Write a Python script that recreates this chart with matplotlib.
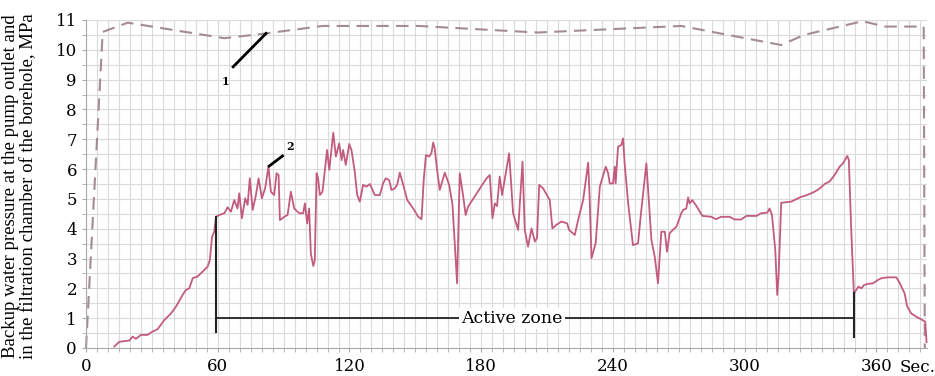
import numpy as np
import matplotlib.pyplot as plt
from matplotlib.ticker import MultipleLocator

# curve 1: pressure at the pump outlet (dashed)
t_pump = [0, 7.6, 19.0, 63, 82, 107.7, 151.6, 190.7, 205.7, 271, 316.6, 327,
          353.7, 363.7, 381.5, 382]
p_pump = [0, 10.6, 10.91, 10.39, 10.55, 10.8, 10.8, 10.64, 10.58, 10.8, 10.16,
          10.5, 10.96, 10.78, 10.78, 0]

# curve 2: pressure in the filtration chamber of the borehole
t_hole = [12.9, 15.2, 19.7, 21.2, 22.8, 25, 28, 30.3, 32.6, 35.7, 38.7, 41, 44,
          45.5, 47, 48.6, 50.8, 53.1, 55.4, 56.4, 57.4, 58.4, 59.2, 60.7, 63,
          64.5, 66, 67.5, 69, 69.8, 71, 72.5, 73.6, 74.6, 75.9, 77.4, 78.6,
          80.1, 81.6, 83.1, 84.2, 85.7, 86.8, 87.7, 88.3, 90.3, 91.8, 93.3,
          94.8, 97.1, 98.9, 99.7, 100.7, 101.6, 102.4, 103.5, 104.2, 105,
          105.7, 106.5, 107.7, 108.8, 109.8, 110.8, 112.6, 113.8, 115.3, 116.4,
          117.1, 118.3, 119.9, 120.9, 122.4, 123.5, 124.7, 126.2, 127.7, 129.3,
          131.5, 133.8, 135.3, 136.5, 138.1, 139.1, 140.6, 141.7, 142.9, 144.7,
          146.3, 149, 151.3, 152.8, 153.8, 154.8, 156.3, 157.3, 158.1, 158.8,
          159.9, 161.1, 163.4, 165.4, 166.9, 168, 169, 170.2, 171.7, 172.9,
          174, 182.4, 183.9, 185.1, 186.2, 187.2, 188.4, 189.5, 192.7, 194.5,
          196.8, 198.8, 199.8, 201.3, 202.9, 204.4, 205.4, 206.4, 208.2, 211.2,
          212.4, 214.2, 216.5, 219.1, 220, 222.6, 224.1, 226.4, 228.7, 229.4,
          230.2, 232.1, 234, 236.7, 237.8, 238.5, 240, 240.8, 241.2, 242.3,
          243.8, 244.6, 245.3, 246.9, 249.1, 251.4, 252.9, 255.2, 257.5, 259,
          260.5, 262, 263.6, 264.6, 265.8, 267.3, 268.9, 271.1, 271.9, 273.4,
          274.2, 274.9, 276.1, 278, 280.7, 284.8, 286.8, 289.3, 293.1, 295.4,
          298.4, 300.7, 305.3, 307.5, 310.3, 311.3, 312.4, 313.9, 314.8, 315.4,
          316.6, 321.2, 323.5, 325.7, 327.3, 330.3, 331.8, 334.1, 336.4, 338.6,
          340.9, 343.2, 344.7, 345.8, 346.7, 347.4, 348.5, 349.7, 350.8, 351.8,
          353.1, 354.3, 356.1, 358.4, 360.6, 362.2, 365.2, 369, 370.5, 372.8,
          374, 375.8, 378.1, 380.4, 382.2, 382.8]
p_hole = [0.05, 0.21, 0.25, 0.38, 0.31, 0.44, 0.44, 0.55, 0.63, 0.94, 1.16,
          1.39, 1.78, 1.95, 2.0, 2.34, 2.4, 2.56, 2.73, 2.95, 3.73, 3.9, 4.4,
          4.46, 4.52, 4.72, 4.57, 4.96, 4.68, 5.19, 4.35, 5.02, 4.8, 5.69, 4.63,
          5.13, 5.69, 5.02, 5.36, 6.08, 5.24, 5.13, 5.86, 5.8, 4.29, 4.4, 4.46,
          5.24, 4.68, 4.52, 4.52, 4.85, 4.18, 4.68, 3.17, 2.75, 2.95, 5.86,
          5.69, 5.13, 5.24, 5.97, 6.64, 5.97, 7.22, 6.42, 6.86, 6.3, 6.64, 6.14,
          6.84, 6.64, 5.91, 5.13, 4.91, 5.47, 5.41, 5.5, 5.13, 5.13, 5.52, 5.69,
          5.63, 5.3, 5.35, 5.47, 5.88, 5.41, 4.96, 4.68, 4.4, 4.32, 5.63, 6.47,
          6.42, 6.53, 6.89, 6.7, 5.97, 5.3, 5.88, 5.47, 4.8, 3.4, 2.17, 5.86,
          5.13, 4.46, 4.74, 5.69, 5.8, 4.35, 4.85, 4.76, 5.75, 5.13, 6.53, 4.52,
          3.96, 6.25, 3.96, 3.4, 4.01, 3.57, 3.68, 5.47, 5.35, 4.96, 4.01, 4.13,
          4.24, 4.18, 3.96, 3.79, 4.29, 4.96, 6.22, 4.96, 3.01, 3.51, 5.41,
          6.08, 5.86, 5.52, 5.52, 6.08, 5.52, 6.75, 6.81, 7.03, 6.19, 4.85,
          3.45, 3.51, 4.63, 6.19, 3.62, 3.06, 2.17, 3.9, 3.9, 3.23, 3.85, 3.96,
          4.07, 4.52, 4.63, 4.68, 5.05, 4.85, 4.96, 4.76, 4.43, 4.4, 4.32, 4.4,
          4.4, 4.31, 4.31, 4.43, 4.43, 4.52, 4.54, 4.68, 4.46, 3.29, 1.78, 2.39,
          4.87, 4.91, 4.99, 5.07, 5.10, 5.19, 5.24, 5.35, 5.50, 5.58, 5.80, 6.08,
          6.19, 6.33, 6.44, 6.31, 3.96, 1.83, 1.95, 2.06, 2.0, 2.11, 2.15, 2.17,
          2.28, 2.34, 2.37, 2.37, 2.19, 1.83, 1.39, 1.16, 1.05, 0.96, 0.88, 0.2]

zone_start, zone_end, zone_level = 59.2, 349.7, 1.0
x_ticks = [0, 60, 120, 180, 240, 300, 360]

plt.rcParams['font.family'] = ['DejaVu Serif']

fig = plt.figure(figsize=(9.35, 3.76), dpi=100)
ax = fig.add_axes([86 / 935, 28 / 376, 841 / 935, 328 / 376])

ax.plot(t_pump, p_pump, color='#a38c95', lw=1.5, dashes=(6, 3.5), clip_on=False)
ax.plot(t_hole, p_hole, color='#c25b7d', lw=1.3, clip_on=False)

# active zone bracket
ax.plot([zone_start, zone_start], [0.55, 4.4], color='#222222', lw=1.5)
ax.plot([zone_end, zone_end], [0.37, 1.85], color='#222222', lw=1.5)
ax.plot([zone_start, zone_end], [zone_level, zone_level], color='#222222', lw=1.3)
ax.text(194, zone_level, 'Active zone', ha='center', va='center', fontsize=12.5,
        bbox=dict(facecolor='white', edgecolor='none', pad=1.5))

# curve labels
ax.plot([82, 67], [10.55, 9.43], color='black', lw=2)
ax.text(63.5, 8.95, '1', fontsize=8, fontweight='bold', ha='center', va='center')
ax.plot([83.4, 89.5], [6.1, 6.44], color='black', lw=2)
ax.text(93, 6.75, '2', fontsize=8, fontweight='bold', ha='center', va='center')

ax.set_xlim(0, 383)
ax.set_ylim(0, 11)
ax.set_xticks(x_ticks)
ax.set_xticklabels([str(v) for v in x_ticks])
ax.set_yticks(range(0, 12))
ax.xaxis.set_minor_locator(MultipleLocator(5))
ax.yaxis.set_minor_locator(MultipleLocator(0.5))
ax.grid(True, which='both', color='#dadada', lw=0.8)
ax.set_axisbelow(True)
ax.tick_params(which='both', length=3, color='#aaaaaa', labelsize=12)
ax.tick_params(axis='x', pad=4)
for side in ['top', 'right']:
    ax.spines[side].set_visible(False)
for side in ['left', 'bottom']:
    ax.spines[side].set_color('#aaaaaa')

ax.text(370.5, -0.38, 'Sec.', fontsize=12, ha='left', va='top')
fig.text(0.021, 0.505, 'Backup water pressure at the pump outlet and\n'
         'in the filtration chamber of the borehole, MPa',
         rotation=90, ha='center', va='center', fontsize=13.5, linespacing=1.05,
         family=['Liberation Serif'])

fig.savefig('out.png', dpi=100)
